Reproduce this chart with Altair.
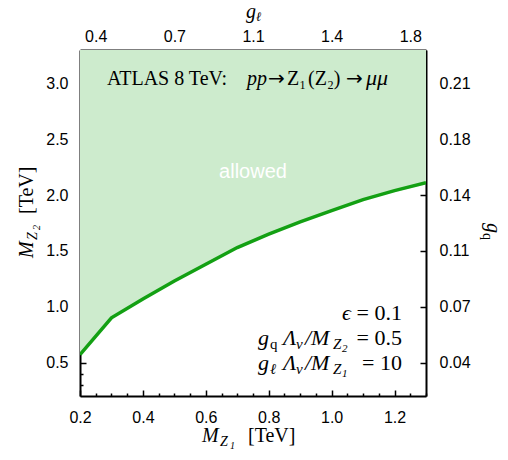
import json
import altair as alt
import pandas as pd

# ---- data ----
m_z1 = [0.2, 0.3, 0.4, 0.5, 0.6, 0.7, 0.8, 0.9, 1.0, 1.1, 1.2, 1.3]
m_z2 = [0.57, 0.90, 1.07, 1.23, 1.38, 1.53, 1.65, 1.76, 1.86, 1.96, 2.04, 2.11]
y_top = 3.3  # upper edge of the plotted range (allowed region extends to it)

x_major = [0.2, 0.4, 0.6, 0.8, 1.0, 1.2]
x_minor = [0.25, 0.3, 0.35, 0.45, 0.5, 0.55, 0.65, 0.7, 0.75, 0.85, 0.9, 0.95,
           1.05, 1.1, 1.15, 1.25, 1.3]
y_major = [0.5, 1.0, 1.5, 2.0, 2.5, 3.0]
y_minor = [0.3, 0.4, 0.6, 0.7, 0.8, 0.9, 1.1, 1.2, 1.3, 1.4, 1.6, 1.7, 1.8, 1.9,
           2.1, 2.2, 2.3, 2.4, 2.6, 2.7, 2.8, 2.9, 3.1, 3.2]
top_pos = [0.25, 0.5, 0.75, 1.0, 1.25]
top_labels = ["0.4", "0.7", "1.1", "1.4", "1.8"]
right_labels = ["0.04", "0.07", "0.11", "0.14", "0.18", "0.21"]

df = pd.DataFrame({"mz1": m_z1, "mz2": m_z2, "top": [y_top] * len(m_z1)})
one = pd.DataFrame({"k": [0]})

FILL = "#cdebcd"
LINE = "#13a013"
SERIF = "Liberation Serif"
SANS = "Liberation Sans"
ARROW = "DejaVu Sans"


def ax(orient, values, size, labels=True, domain=True, label_expr=None, fmt=None, pad=0):
    kw = dict(orient=orient, values=values, tickSize={"expr": str(-size)},
              tickColor="black", tickWidth=1.5, domain=domain, domainColor="black",
              domainWidth=2, grid=False, title=None, labels=labels)
    if labels:
        kw.update(labelFont=SANS, labelFontSize=16, labelColor="black",
                  labelPadding=pad, labelFlush=False, labelOverlap=False)
    if label_expr:
        kw["labelExpr"] = label_expr
    if fmt:
        kw["format"] = fmt
    return alt.Axis(**kw)


xs = alt.Scale(domain=[0.2, 1.3], nice=False, zero=False)
ys = alt.Scale(domain=[0.2, y_top], nice=False, zero=False)

top_expr = json.dumps(top_labels) + "[round(datum.value*4)-1]"
right_expr = json.dumps(right_labels) + "[round(datum.value*2)-1]"

area = alt.Chart(df).mark_area(color=FILL, opacity=1, clip=True).encode(
    x=alt.X("mz1:Q", scale=xs, axis=ax("bottom", x_major, 6, fmt=".1f", pad=19)),
    y=alt.Y("mz2:Q", scale=ys, stack=None,
            axis=ax("left", y_major, 6, fmt=".1f", pad=18)),
    y2="top:Q",
)

line = alt.Chart(df).mark_line(color=LINE, strokeWidth=3.5, clip=True).encode(
    x=alt.X("mz1:Q", scale=xs, axis=ax("top", top_pos, 6, label_expr=top_expr, pad=12)),
    y=alt.Y("mz2:Q", scale=ys, axis=ax("right", y_major, 6, label_expr=right_expr, pad=19)),
)

minor = alt.Chart(df).mark_line(strokeOpacity=0).encode(
    x=alt.X("mz1:Q", scale=xs, axis=ax("bottom", x_minor, 3, labels=False, domain=False)),
    y=alt.Y("mz2:Q", scale=ys, axis=ax("left", y_minor, 3, labels=False, domain=False)),
)


def txt(s, x, y, size, style="normal", font=SERIF, align="left", angle=0,
        color="black", baseline="alphabetic"):
    return alt.Chart(one).mark_text(
        text=s, font=font, fontSize=size, fontStyle=style, align=align,
        baseline=baseline, angle=angle, color=color,
    ).encode(x=alt.value(x), y=alt.value(y))


texts = [
    # header
    txt("ATLAS 8 TeV:", 27, 35, 20),
    txt("pp", 167, 35, 20, "italic"),
    txt("→", 188, 35, 20, font=ARROW),
    txt("Z₁", 207, 35, 20),
    txt("(Z₂)", 228, 35, 20),
    txt("→", 266, 35, 20, font=ARROW),
    txt("μμ", 286, 35, 22, "italic"),
    # allowed
    txt("allowed", 173, 122, 20, font=SANS, align="center", color="white",
        baseline="middle"),
    # parameters
    txt("ϵ", 262, 270, 22, "italic"),
    txt("= 0.1", 322, 270, 22, align="right"),
    txt("g", 178, 295, 22, "italic"),
    txt("q", 190, 299, 15),
    txt("Λ", 203, 295, 22, "italic"),
    txt("v", 216, 299, 15, "italic"),
    txt("/M", 225, 295, 22, "italic"),
    txt("Z", 253, 299, 15, "italic"),
    txt("2", 262, 302, 11, "italic"),
    txt("= 0.5", 322, 295, 22, align="right"),
    txt("g", 178, 320, 22, "italic"),
    txt("ℓ", 190, 324, 15, "italic"),
    txt("Λ", 203, 320, 22, "italic"),
    txt("v", 216, 324, 15, "italic"),
    txt("/M", 225, 320, 22, "italic"),
    txt("Z", 253, 324, 15, "italic"),
    txt("1", 262, 327, 11, "italic"),
    txt("= 10", 322, 320, 22, align="right"),
    # bottom axis title
    txt("M", 122, 392, 20, "italic"),
    txt("Z", 140, 396, 14, "italic"),
    txt("1", 150, 399, 10, "italic"),
    txt("[TeV]", 168, 392, 20),
    # left axis title
    txt("M", -47, 208, 20, "italic", angle=270),
    txt("Z", -43, 190, 14, "italic", angle=270),
    txt("2", -40, 180, 10, "italic", angle=270),
    txt("[TeV]", -47, 164, 20, angle=270),
    # top axis title
    txt("g", 166, -32, 20, "italic"),
    txt("ℓ", 176, -29, 13, "italic"),
    # right axis title
    txt("g", 407, 173, 20, "italic", angle=90),
    txt("q", 403, 183, 14, angle=90),
]

chart = alt.layer(area, line, minor, *texts).resolve_scale(
    x="shared", y="shared"
).resolve_axis(
    x="independent", y="independent"
).properties(
    width=346, height=346,
    autosize=alt.AutoSizeParams(type="none"),
    padding={"left": 72, "top": 42, "right": 74, "bottom": 56},
).configure_view(stroke=None)

chart.save("out.html", embed_options={"renderer": "svg", "actions": False})
